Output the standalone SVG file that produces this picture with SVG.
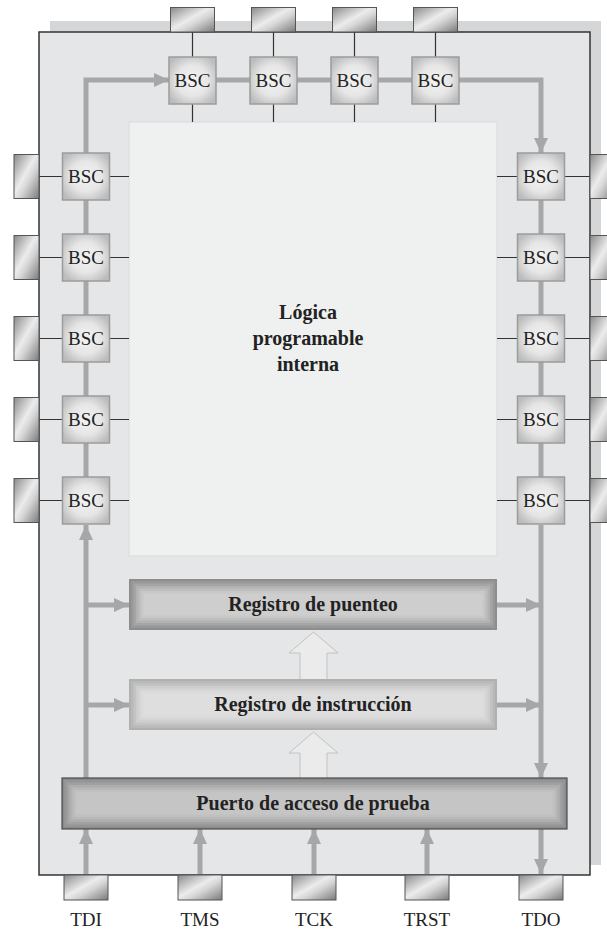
<svg xmlns="http://www.w3.org/2000/svg" width="607" height="931" viewBox="0 0 607 931">
<defs>
<linearGradient id="pinG" x1="0" y1="0" x2="1" y2="1">
<stop offset="0" stop-color="#8a8a8a"/>
<stop offset="0.45" stop-color="#ececec"/>
<stop offset="0.6" stop-color="#d6d6d6"/>
<stop offset="1" stop-color="#7a7a7a"/>
</linearGradient>
<radialGradient id="bscG" cx="0.5" cy="0.5" r="0.6">
<stop offset="0" stop-color="#f3f3f3"/>
<stop offset="0.55" stop-color="#e6e6e6"/>
<stop offset="1" stop-color="#bcbcbc"/>
</radialGradient>
<marker id="ah" viewBox="0 0 15 14" refX="15" refY="7" markerWidth="15" markerHeight="14" orient="auto" markerUnits="userSpaceOnUse">
<path d="M0,0 L15,7 L0,14 z" fill="#a5a7a9"/>
</marker>
</defs>
<style>
.pin{fill:url(#pinG);stroke:#555;stroke-width:1}
.bsc{fill:url(#bscG);stroke:#9c9c9c;stroke-width:1.5}
.bt{font-family:"Liberation Serif",serif;font-size:19px;fill:#222;text-anchor:middle}
.lbl{font-family:"Liberation Serif",serif;font-size:20px;font-weight:bold;fill:#222;text-anchor:middle}
.pl{font-family:"Liberation Serif",serif;font-size:19px;fill:#222;text-anchor:middle}
.tl{stroke:#333;stroke-width:1.2;fill:none}
.ga{stroke:#a5a7a9;stroke-width:5;fill:none}
.gaa{stroke:#a5a7a9;stroke-width:5;fill:none;marker-end:url(#ah)}
.hol{fill:#ebebeb;stroke:#c2c2c2;stroke-width:1}
</style>
<!-- chip body -->
<g id="chip">
<rect x="50" y="21" width="551" height="844" fill="#d5d6d7"/>
<rect x="39" y="32" width="551" height="843" fill="#e5e6e7" stroke="#333" stroke-width="1.5"/>
</g>
<g id="logic">
<rect x="129" y="122" width="368" height="434" fill="#eff0f0" stroke="#dadada" stroke-width="1"/>
<text class="lbl" x="308" y="319">Lógica</text>
<text class="lbl" x="308" y="345">programable</text>
<text class="lbl" x="308" y="371">interna</text>
</g>
<!-- connectors -->
<g id="connectors">
<!-- thin lines top -->
<path class="tl" d="M192.5,32 V57 M192.5,104 V122 M273.5,32 V57 M273.5,104 V122 M354.5,32 V57 M354.5,104 V122 M435.5,32 V57 M435.5,104 V122"/>
<!-- thin lines left -->
<path class="tl" d="M39,176.5 H63 M109,176.5 H129 M39,257.5 H63 M109,257.5 H129 M39,338.5 H63 M109,338.5 H129 M39,419.5 H63 M109,419.5 H129 M39,500.5 H63 M109,500.5 H129"/>
<!-- thin lines right -->
<path class="tl" d="M497,176.5 H517.5 M564.5,176.5 H590 M497,257.5 H517.5 M564.5,257.5 H590 M497,338.5 H517.5 M564.5,338.5 H590 M497,419.5 H517.5 M564.5,419.5 H590 M497,500.5 H517.5 M564.5,500.5 H590"/>
<!-- scan chain -->
<path class="gaa" d="M86,153 V80 H169"/>
<path class="ga" d="M216,80 H250 M297,80 H331 M378,80 H412"/>
<path class="gaa" d="M459,80 H541 V153"/>
<path class="ga" d="M86,200 V234 M86,281 V315 M86,362 V396 M86,443 V477"/>
<path class="ga" d="M541,200 V234 M541,281 V315 M541,362 V396 M541,443 V477"/>
<path class="gaa" d="M86,778 V525"/>
<path class="gaa" d="M86,605 H129"/>
<path class="gaa" d="M86,705 H129"/>
<path class="gaa" d="M497,605 H541"/>
<path class="gaa" d="M497,705 H541"/>
<path class="gaa" d="M541,525 V778"/>
<!-- bottom pins -->
<path class="gaa" d="M86,874 V829"/>
<path class="gaa" d="M200,874 V829"/>
<path class="gaa" d="M314,874 V829"/>
<path class="gaa" d="M427,874 V829"/>
<path class="gaa" d="M541,829 V874"/>
<!-- hollow arrows -->
<path class="hol" d="M300,679 V653 H289 L313.5,632 L338,653 H327 V679"/>
<path class="hol" d="M300,778 V753 H289 L313.5,732 L338,753 H327 V778"/>
</g>
<!-- top pins + BSCs -->
<g id="top1"><rect class="pin" x="170.5" y="7.5" width="44" height="24.5"/><rect class="bsc" x="169" y="57" width="47" height="47"/><text class="bt" x="192.5" y="87">BSC</text></g>
<g id="top2"><rect class="pin" x="251.5" y="7.5" width="44" height="24.5"/><rect class="bsc" x="250" y="57" width="47" height="47"/><text class="bt" x="273.5" y="87">BSC</text></g>
<g id="top3"><rect class="pin" x="332.5" y="7.5" width="44" height="24.5"/><rect class="bsc" x="331" y="57" width="47" height="47"/><text class="bt" x="354.5" y="87">BSC</text></g>
<g id="top4"><rect class="pin" x="413.5" y="7.5" width="44" height="24.5"/><rect class="bsc" x="412" y="57" width="47" height="47"/><text class="bt" x="435.5" y="87">BSC</text></g>
<!-- left -->
<g id="left1"><rect class="pin" x="14" y="154.5" width="25" height="44"/><rect class="bsc" x="62.5" y="153" width="47" height="47"/><text class="bt" x="86" y="183">BSC</text></g>
<g id="left2"><rect class="pin" x="14" y="235.5" width="25" height="44"/><rect class="bsc" x="62.5" y="234" width="47" height="47"/><text class="bt" x="86" y="264">BSC</text></g>
<g id="left3"><rect class="pin" x="14" y="316.5" width="25" height="44"/><rect class="bsc" x="62.5" y="315" width="47" height="47"/><text class="bt" x="86" y="345">BSC</text></g>
<g id="left4"><rect class="pin" x="14" y="397.5" width="25" height="44"/><rect class="bsc" x="62.5" y="396" width="47" height="47"/><text class="bt" x="86" y="426">BSC</text></g>
<g id="left5"><rect class="pin" x="14" y="478.5" width="25" height="44"/><rect class="bsc" x="62.5" y="477" width="47" height="47"/><text class="bt" x="86" y="507">BSC</text></g>
<!-- right -->
<g id="right1"><rect class="pin" x="590" y="154.5" width="25" height="44"/><rect class="bsc" x="517.5" y="153" width="47" height="47"/><text class="bt" x="541" y="183">BSC</text></g>
<g id="right2"><rect class="pin" x="590" y="235.5" width="25" height="44"/><rect class="bsc" x="517.5" y="234" width="47" height="47"/><text class="bt" x="541" y="264">BSC</text></g>
<g id="right3"><rect class="pin" x="590" y="316.5" width="25" height="44"/><rect class="bsc" x="517.5" y="315" width="47" height="47"/><text class="bt" x="541" y="345">BSC</text></g>
<g id="right4"><rect class="pin" x="590" y="397.5" width="25" height="44"/><rect class="bsc" x="517.5" y="396" width="47" height="47"/><text class="bt" x="541" y="426">BSC</text></g>
<g id="right5"><rect class="pin" x="590" y="478.5" width="25" height="44"/><rect class="bsc" x="517.5" y="477" width="47" height="47"/><text class="bt" x="541" y="507">BSC</text></g>
<!-- registers -->
<g id="puenteo">
<rect x="129" y="579" width="368" height="51" fill="#8d8d8d"/>
<rect x="131" y="581" width="364" height="47" fill="#989898"/>
<rect x="133.5" y="583.5" width="359" height="42" fill="#a5a5a5"/>
<rect x="136" y="586" width="354" height="37" fill="#b2b2b2"/>
<rect x="138.5" y="588.5" width="349" height="32" fill="#bebebe"/>
<rect x="141" y="591" width="344" height="27" fill="#c8c8c8"/>
<rect x="143.5" y="593.5" width="339" height="22" fill="#cecece"/>
<text class="lbl" x="313" y="611">Registro de puenteo</text>
</g>
<g id="instruccion">
<rect x="129" y="679" width="368" height="51" fill="#b0b0b0"/>
<rect x="131" y="681" width="364" height="47" fill="#b9b9b9"/>
<rect x="133.5" y="683.5" width="359" height="42" fill="#c3c3c3"/>
<rect x="136" y="686" width="354" height="37" fill="#cdcdcd"/>
<rect x="138.5" y="688.5" width="349" height="32" fill="#d5d5d5"/>
<rect x="141" y="691" width="344" height="27" fill="#dbdbdb"/>
<rect x="143.5" y="693.5" width="339" height="22" fill="#dedede"/>
<text class="lbl" x="313" y="711">Registro de instrucción</text>
</g>
<g id="puerto">
<rect x="62" y="778" width="505" height="51" fill="#8a8a8a"/>
<rect x="64" y="780" width="501" height="47" fill="#959595"/>
<rect x="66.5" y="782.5" width="496" height="42" fill="#a1a1a1"/>
<rect x="69" y="785" width="491" height="37" fill="#adadad"/>
<rect x="71.5" y="787.5" width="486" height="32" fill="#b8b8b8"/>
<rect x="74" y="790" width="481" height="27" fill="#c0c0c0"/>
<rect x="76.5" y="792.5" width="476" height="22" fill="#c5c5c5"/>
<rect x="62" y="778" width="505" height="51" fill="none" stroke="#4d4d4d" stroke-width="1.2"/>
<text class="lbl" x="313" y="810">Puerto de acceso de prueba</text>
</g>
<!-- bottom pins -->
<g id="tdi"><rect class="pin" x="64" y="875" width="44" height="25"/><text class="pl" x="86" y="926">TDI</text></g>
<g id="tms"><rect class="pin" x="178" y="875" width="44" height="25"/><text class="pl" x="200" y="926">TMS</text></g>
<g id="tck"><rect class="pin" x="292" y="875" width="44" height="25"/><text class="pl" x="314" y="926">TCK</text></g>
<g id="trst"><rect class="pin" x="405" y="875" width="44" height="25"/><text class="pl" x="427" y="926">TRST</text></g>
<g id="tdo"><rect class="pin" x="519" y="875" width="44" height="25"/><text class="pl" x="541" y="926">TDO</text></g>
</svg>
